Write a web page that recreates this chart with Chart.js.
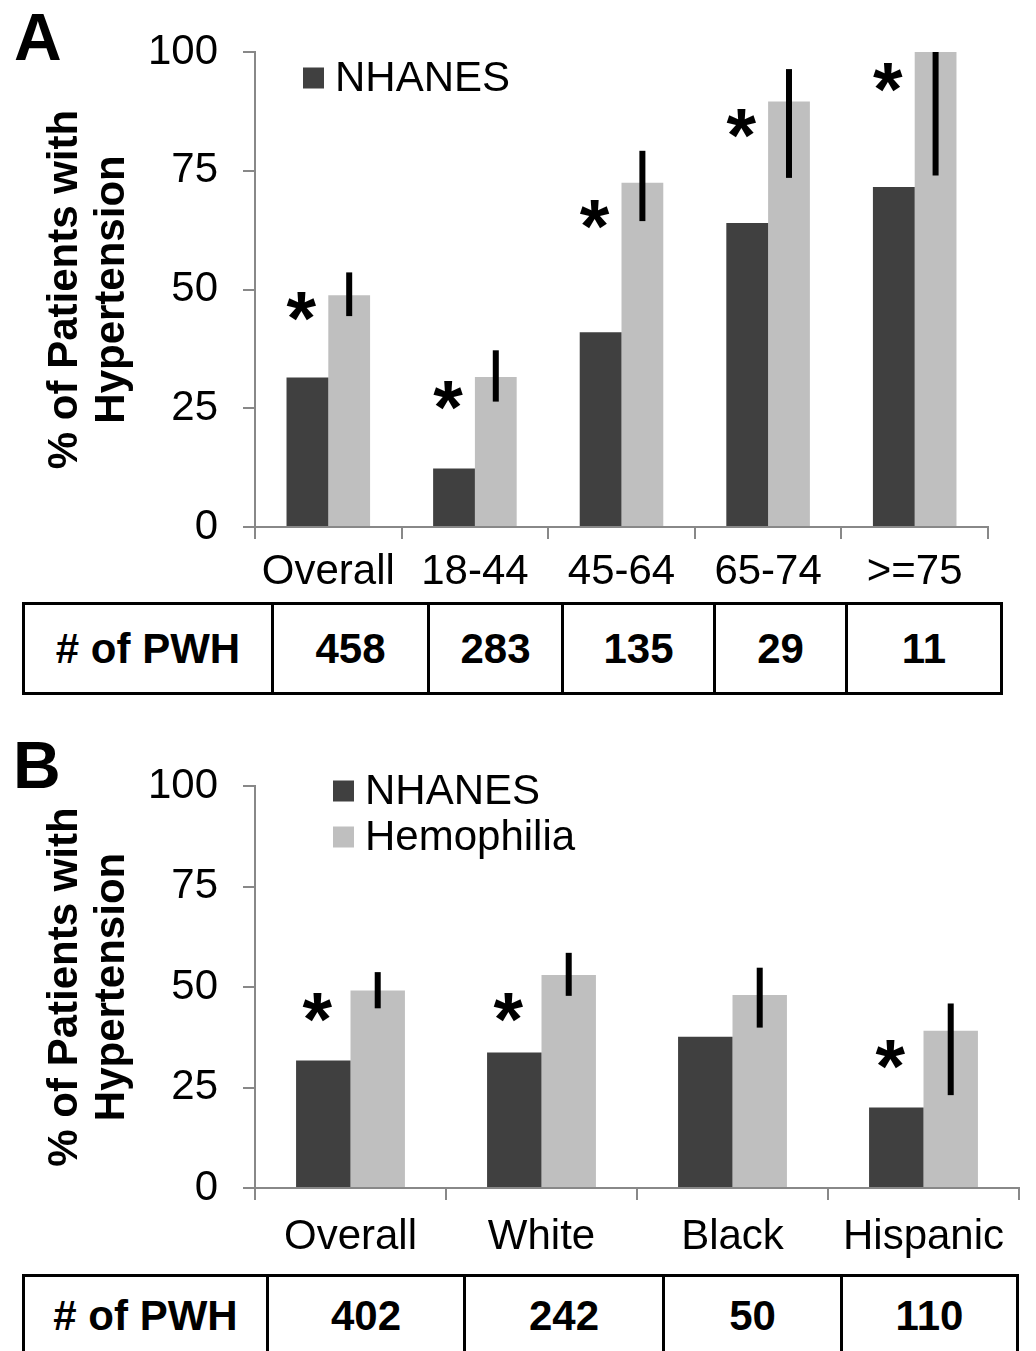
<!DOCTYPE html>
<html>
<head>
<meta charset="utf-8">
<script src="https://cdn.jsdelivr.net/npm/chart.js@4.4.1/dist/chart.umd.min.js"></script>
<style>
  html, body { margin: 0; padding: 0; background: #fff; overflow: hidden; }
  body { width: 1036px; height: 1351px; position: relative; font-family: "Liberation Sans", Arial, sans-serif; }
  .panel-label { position: absolute; font-weight: bold; font-size: 66px; line-height: 1; }
  canvas { position: absolute; left: 0; }
  table.pwh { position: absolute; left: 22px; border-collapse: collapse; table-layout: fixed; font-weight: bold; font-size: 42px; }
  table.pwh td { border: 3px solid #000; text-align: center; vertical-align: middle; padding: 0; }
</style>
</head>
<body>
<div class="panel-label" style="left:14px; top:4px;">A</div>
<canvas id="chartA" width="1036" height="600" style="top:0"></canvas>
<table class="pwh" id="tableA" style="top:602px; width:978px; height:93px;"></table>

<div class="panel-label" style="left:13px; top:732px;">B</div>
<canvas id="chartB" width="1036" height="540" style="top:730px"></canvas>
<table class="pwh" id="tableB" style="top:1274px; width:994px; height:84px;"></table>

<script>
// Panel A: by age group
const ageGroups = ['Overall', '18-44', '45-64', '65-74', '>=75'];
const nhanesAge = [31.5, 12.3, 41.0, 64.0, 71.6];
const hemoAge = [48.8, 31.6, 72.5, 89.6, 100];
const hemoAgeLow = [44.4, 26.4, 64.4, 73.5, 74.0];
const hemoAgeHigh = [53.6, 37.2, 79.2, 96.4, 100];
const starAge = [46.5, 27.6, 65.7, 85.0, 94.7];
const pwhAge = [458, 283, 135, 29, 11];

// Panel B: by race / ethnicity
const raceGroups = ['Overall', 'White', 'Black', 'Hispanic'];
const nhanesRace = [31.7, 33.7, 37.6, 20.0];
const hemoRace = [49.1, 53.0, 48.0, 39.1];
const hemoRaceLow = [44.7, 47.8, 39.9, 23.1];
const hemoRaceHigh = [53.7, 58.5, 54.8, 45.9];
const starRace = [44.9, 44.8, null, 33.1];
const pwhRace = [402, 242, 50, 110];

const yTicks = [0, 25, 50, 75, 100];
const yTitle = ['% of Patients with', 'Hypertension'];

Chart.defaults.font.family = '"Liberation Sans", Arial, sans-serif';

// error bars, asterisks and the little legend
const overlay = {
  id: 'overlay',
  afterDatasetsDraw(chart, args, o) {
    const ctx = chart.ctx;
    const y = chart.scales.y;
    const dark = chart.getDatasetMeta(0).data;
    const light = chart.getDatasetMeta(1).data;
    ctx.save();
    ctx.fillStyle = '#000';
    o.low.forEach((lo, i) => {
      const top = y.getPixelForValue(o.high[i]);
      const bot = y.getPixelForValue(lo);
      ctx.fillRect(light[i].x - 3, top, 6, bot - top);
    });
    ctx.font = 'bold 76px "Liberation Sans", Arial, sans-serif';
    ctx.textAlign = 'center';
    ctx.textBaseline = 'alphabetic';
    const m = ctx.measureText('*');
    const mid = (m.actualBoundingBoxAscent - m.actualBoundingBoxDescent) / 2;
    o.stars.forEach((s, i) => {
      if (s === null) return;
      ctx.fillText('*', dark[i].x - 6, y.getPixelForValue(s) + mid);
    });
    // legend
    ctx.font = '42px "Liberation Sans", Arial, sans-serif';
    ctx.textAlign = 'left';
    ctx.textBaseline = 'middle';
    o.legend.forEach((di, k) => {
      const ds = chart.data.datasets[di];
      const cy = o.legendY + k * 46;
      ctx.fillStyle = ds.backgroundColor;
      ctx.fillRect(o.legendX, cy - 10.5, 21, 21);
      ctx.fillStyle = '#000';
      ctx.fillText(ds.label, o.legendX + 32, cy + 1);
    });
    ctx.restore();
  }
};

function makeChart(id, cats, nhanes, hemo, low, high, stars, lay) {
  return new Chart(document.getElementById(id), {
    type: 'bar',
    data: {
      labels: cats,
      datasets: [
        { label: 'NHANES', data: nhanes, backgroundColor: '#404040' },
        { label: 'Hemophilia', data: hemo, backgroundColor: '#bfbfbf' }
      ]
    },
    options: {
      responsive: false,
      animation: false,
      devicePixelRatio: 1,
      categoryPercentage: 0.57,
      barPercentage: 1,
      layout: { padding: { left: 0, top: lay.top, right: lay.right, bottom: 0 } },
      plugins: {
        legend: { display: false },
        tooltip: { enabled: false },
        overlay: { low, high, stars, legend: lay.legend, legendX: lay.legendX, legendY: lay.legendY }
      },
      scales: {
        x: {
          grid: { offset: true, drawOnChartArea: false, drawTicks: true, tickLength: 12, color: '#888', lineWidth: 2 },
          border: { color: '#888', width: 2 },
          ticks: { color: '#000', font: { size: 42 }, padding: lay.xPad, maxRotation: 0, autoSkip: false },
          afterFit: s => { s.height = lay.xHeight; }
        },
        y: {
          min: 0,
          max: 100,
          afterBuildTicks: s => { s.ticks = yTicks.map(v => ({ value: v })); },
          ticks: { color: '#000', font: { size: 42 }, padding: 25 },
          grid: { drawOnChartArea: false, drawTicks: true, tickLength: 12, color: '#888', lineWidth: 2 },
          border: { color: '#888', width: 2 },
          title: {
            display: true,
            text: yTitle,
            color: '#000',
            font: { size: 42, weight: 'bold', lineHeight: 1.12 },
            padding: { top: 41.5, bottom: 0 }
          },
          afterFit: s => { s.width = 255; }
        }
      }
    },
    plugins: [overlay]
  });
}

makeChart('chartA', ageGroups, nhanesAge, hemoAge, hemoAgeLow, hemoAgeHigh, starAge,
  { top: 52, right: 48, xHeight: 73, xPad: 8, legend: [0], legendX: 303, legendY: 78 });
makeChart('chartB', raceGroups, nhanesRace, hemoRace, hemoRaceLow, hemoRaceHigh, starRace,
  { top: 56, right: 17, xHeight: 82, xPad: 12, legend: [0, 1], legendX: 333, legendY: 61 });

function fillTable(id, counts, widths) {
  const t = document.getElementById(id);
  const cg = document.createElement('colgroup');
  widths.forEach(w => {
    const c = document.createElement('col');
    c.style.width = w + 'px';
    cg.appendChild(c);
  });
  t.appendChild(cg);
  const tr = document.createElement('tr');
  ['# of PWH'].concat(counts).forEach(v => {
    const td = document.createElement('td');
    td.textContent = v;
    tr.appendChild(td);
  });
  t.appendChild(tr);
}
fillTable('tableA', pwhAge, [249, 156, 134, 152, 132, 155]);
fillTable('tableB', pwhRace, [244, 197, 199, 178, 176]);
</script>
</body>
</html>
